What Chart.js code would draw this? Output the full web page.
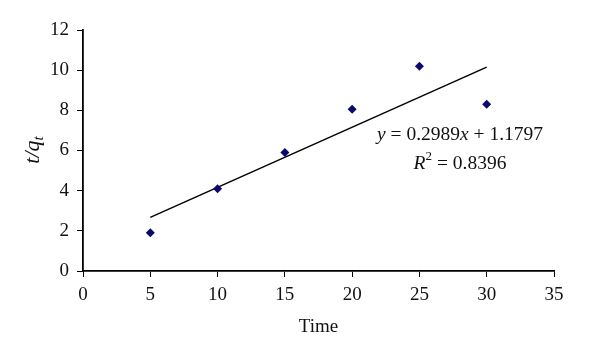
<!DOCTYPE html>
<html>
<head>
<meta charset="utf-8">
<script src="https://cdn.jsdelivr.net/npm/chart.js@4/dist/chart.umd.min.js"></script>
<style>
  html, body { margin: 0; padding: 0; background: #fff; }
  #wrap { width: 600px; height: 356px; }
</style>
</head>
<body>
<div id="wrap"><canvas id="kinetics-chart"></canvas></div>
<script>
// data
const timeValues = [5, 10, 15, 20, 25, 30];
const tqValues = [1.9, 4.1, 5.9, 8.05, 10.2, 8.3];
// fitted line end points (y = 0.2989x + 1.1797)
const fitX = [5, 30];
const fitY = [2.67, 10.15];
const equationLine = 'y = 0.2989x + 1.1797';
const rSquared = '0.8396';

const serif = '"Liberation Serif", "DejaVu Serif", serif';

// draws the rotated y title with subscript and the fit equation
const textPlugin = {
    id: 'textPlugin',
    afterDraw(chart) {
        const ctx = chart.ctx;
        ctx.save();
        ctx.fillStyle = '#111';
        ctx.textBaseline = 'middle';

        // y axis title: t/q_t
        ctx.translate(33, 150);
        ctx.rotate(-Math.PI / 2);
        ctx.font = 'italic 22px ' + serif;
        const main = 't/q';
        const w1 = ctx.measureText(main).width;
        ctx.font = 'italic 15px ' + serif;
        const w2 = ctx.measureText('t').width;
        let x0 = -(w1 + w2) / 2;
        ctx.font = 'italic 22px ' + serif;
        ctx.textAlign = 'left';
        ctx.fillText(main, x0, 0);
        ctx.font = 'italic 15px ' + serif;
        ctx.fillText('t', x0 + w1, 6);
        ctx.restore();

        // equation
        ctx.save();
        ctx.fillStyle = '#111';
        ctx.textBaseline = 'middle';
        ctx.textAlign = 'left';
        const fs = 19.5;
        const cx = 460;
        ctx.font = 'italic ' + fs + 'px ' + serif;
        const yw = ctx.measureText('y').width;
        ctx.font = fs + 'px ' + serif;
        const rest = equationLine.slice(1, equationLine.indexOf('x'));
        const restW = ctx.measureText(rest).width;
        ctx.font = 'italic ' + fs + 'px ' + serif;
        const xw = ctx.measureText('x').width;
        ctx.font = fs + 'px ' + serif;
        const tail = equationLine.slice(equationLine.indexOf('x') + 1);
        const tailW = ctx.measureText(tail).width;
        let sx = cx - (yw + restW + xw + tailW) / 2;
        ctx.font = 'italic ' + fs + 'px ' + serif;
        ctx.fillText('y', sx, 135); sx += yw;
        ctx.font = fs + 'px ' + serif;
        ctx.fillText(rest, sx, 135); sx += restW;
        ctx.font = 'italic ' + fs + 'px ' + serif;
        ctx.fillText('x', sx, 135); sx += xw;
        ctx.font = fs + 'px ' + serif;
        ctx.fillText(tail, sx, 135);

        // R^2 line
        ctx.font = 'italic ' + fs + 'px ' + serif;
        const rw = ctx.measureText('R').width;
        ctx.font = '13px ' + serif;
        const sw = ctx.measureText('2').width;
        ctx.font = fs + 'px ' + serif;
        const r2 = ' = ' + rSquared;
        const r2w = ctx.measureText(r2).width;
        let rx = 460 - (rw + sw + r2w) / 2;
        ctx.font = 'italic ' + fs + 'px ' + serif;
        ctx.fillText('R', rx, 164); rx += rw;
        ctx.font = '13px ' + serif;
        ctx.fillText('2', rx, 157); rx += sw;
        ctx.font = fs + 'px ' + serif;
        ctx.fillText(r2, rx, 164);
        ctx.restore();
    }
};

const ctx = document.getElementById('kinetics-chart').getContext('2d');
new Chart(ctx, {
    type: 'scatter',
    data: {
        datasets: [{
            label: 't/qt',
            data: timeValues.map((t, i) => ({ x: t, y: tqValues[i] })),
            pointStyle: 'rectRot',
            pointRadius: 4.5,
            backgroundColor: '#0a0a6e',
            borderColor: '#0a0a6e',
            borderWidth: 0,
            order: 1
        }, {
            label: 'fit',
            type: 'line',
            data: fitX.map((t, i) => ({ x: t, y: fitY[i] })),
            borderColor: '#000',
            borderWidth: 1.5,
            pointRadius: 0,
            fill: false,
            order: 2
        }]
    },
    options: {
        responsive: true,
        maintainAspectRatio: false,
        animation: false,
        layout: { padding: { left: 0, top: 30, right: 46, bottom: 0 } },
        plugins: {
            legend: { display: false },
            tooltip: { enabled: false }
        },
        scales: {
            x: {
                type: 'linear',
                min: 0,
                max: 35,
                ticks: {
                    stepSize: 5,
                    color: '#111',
                    padding: 7,
                    maxRotation: 0,
                    font: { family: serif, size: 19 }
                },
                grid: {
                    drawOnChartArea: false,
                    drawTicks: true,
                    tickLength: 6,
                    color: '#000'
                },
                border: { color: '#000', width: 1.8 },
                title: {
                    display: true,
                    text: 'Time',
                    color: '#111',
                    font: { family: serif, size: 19 },
                    padding: { top: 6, bottom: 18 }
                },
                afterFit(scale) { scale.height = 85; }
            },
            y: {
                min: 0,
                max: 12,
                ticks: {
                    stepSize: 2,
                    color: '#111',
                    padding: 8,
                    font: { family: serif, size: 19 }
                },
                grid: {
                    drawOnChartArea: false,
                    drawTicks: true,
                    tickLength: 6,
                    color: '#000'
                },
                border: { color: '#000', width: 1.8 },
                afterFit(scale) { scale.width = 83; }
            }
        }
    },
    plugins: [textPlugin]
});
</script>
</body>
</html>
